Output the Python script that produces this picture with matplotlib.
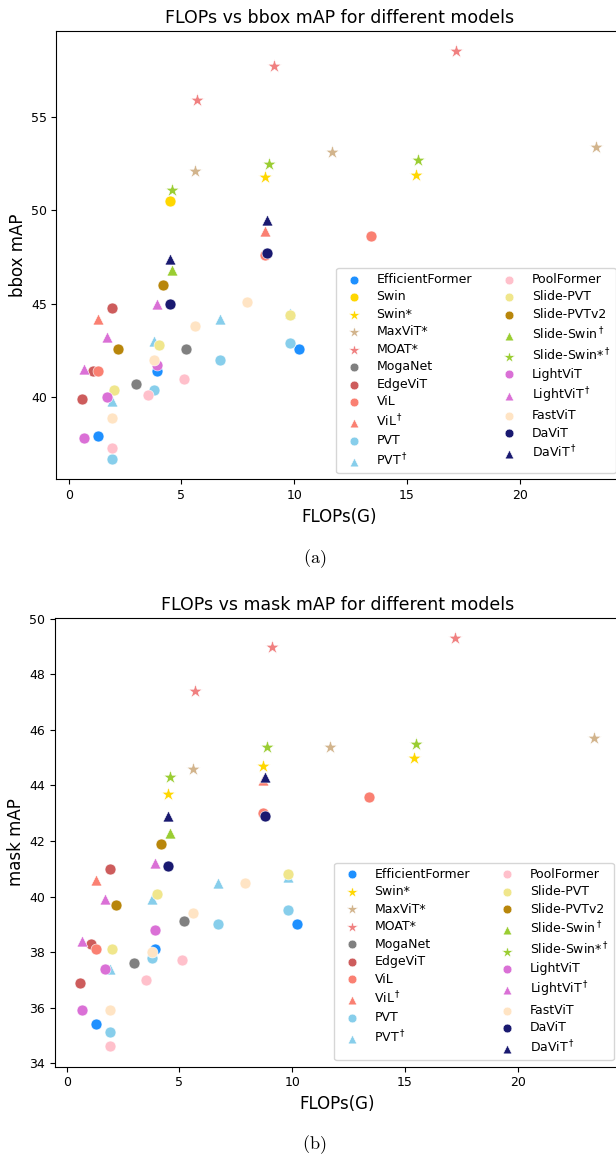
import matplotlib.pyplot as plt

# ---- FLOPs (G) per model ----
effformer_flops = [1.3, 3.9, 10.2]
swin_flops = [4.5]
swin_star_flops_bbox = [8.7, 15.4]
swin_star_flops_mask = [4.5, 8.7, 15.4]
maxvit_flops = [5.6, 11.7, 23.4]
moat_flops = [5.7, 9.1, 17.2]
moganet_flops = [3.0, 5.2]
edgevit_flops = [0.6, 1.1, 1.9]
vil_flops = [1.3, 8.7, 13.4]
vil_dag_flops = [1.3, 8.7]
pvt_flops = [1.9, 3.8, 6.7, 9.8]
poolformer_flops = [1.9, 3.5, 5.1]
slide_pvt_flops = [2.0, 4.0, 9.8]
slide_pvtv2_flops = [2.2, 4.2]
slide_swin_flops = [4.6]
slide_swin_star_flops = [4.6, 8.9, 15.5]
lightvit_flops = [0.7, 1.7, 3.9]
fastvit_flops = [1.9, 3.8, 5.6, 7.9]
davit_flops = [4.5, 8.8]

# ---- bbox mAP ----
effformer_bbox = [37.9, 41.4, 42.6]
swin_bbox = [50.5]
swin_star_bbox = [51.8, 51.9]
maxvit_bbox = [52.1, 53.1, 53.4]
moat_bbox = [55.9, 57.7, 58.5]
moganet_bbox = [40.7, 42.6]
edgevit_bbox = [39.9, 41.4, 44.8]
vil_bbox = [41.4, 47.6, 48.6]
vil_dag_bbox = [44.2, 48.9]
pvt_bbox = [36.7, 40.4, 42.0, 42.9]
pvt_dag_bbox = [39.8, 43.0, 44.2, 44.5]
poolformer_bbox = [37.3, 40.1, 41.0]
slide_pvt_bbox = [40.4, 42.8, 44.4]
slide_pvtv2_bbox = [42.6, 46.0]
slide_swin_bbox = [46.8]
slide_swin_star_bbox = [51.1, 52.5, 52.7]
lightvit_bbox = [37.8, 40.0, 41.7]
lightvit_dag_bbox = [41.5, 43.2, 45.0]
fastvit_bbox = [38.9, 42.0, 43.8, 45.1]
davit_bbox = [45.0, 47.7]
davit_dag_bbox = [47.4, 49.5]

# ---- mask mAP ----
effformer_mask = [35.4, 38.1, 39.0]
swin_star_mask = [43.7, 44.7, 45.0]
maxvit_mask = [44.6, 45.4, 45.7]
moat_mask = [47.4, 49.0, 49.3]
moganet_mask = [37.6, 39.1]
edgevit_mask = [36.9, 38.3, 41.0]
vil_mask = [38.1, 43.0, 43.6]
vil_dag_mask = [40.6, 44.2]
pvt_mask = [35.1, 37.8, 39.0, 39.5]
pvt_dag_mask = [37.4, 39.9, 40.5, 40.7]
poolformer_mask = [34.6, 37.0, 37.7]
slide_pvt_mask = [38.1, 40.1, 40.8]
slide_pvtv2_mask = [39.7, 41.9]
slide_swin_mask = [42.3]
slide_swin_star_mask = [44.3, 45.4, 45.5]
lightvit_mask = [35.9, 37.4, 38.8]
lightvit_dag_mask = [38.4, 39.9, 41.2]
fastvit_mask = [35.9, 38.0, 39.4, 40.5]
davit_mask = [41.1, 42.9]
davit_dag_mask = [42.9, 44.3]

D = r'$^\dagger$'

# (label, flops, values, color, marker)
bbox_series = [
    ('EfficientFormer', effformer_flops, effformer_bbox, 'dodgerblue', 'o'),
    ('Swin', swin_flops, swin_bbox, 'gold', 'o'),
    ('Swin*', swin_star_flops_bbox, swin_star_bbox, 'gold', '*'),
    ('MaxViT*', maxvit_flops, maxvit_bbox, 'tan', '*'),
    ('MOAT*', moat_flops, moat_bbox, 'lightcoral', '*'),
    ('MogaNet', moganet_flops, moganet_bbox, 'gray', 'o'),
    ('EdgeViT', edgevit_flops, edgevit_bbox, 'indianred', 'o'),
    ('ViL', vil_flops, vil_bbox, 'salmon', 'o'),
    ('ViL' + D, vil_dag_flops, vil_dag_bbox, 'salmon', '^'),
    ('PVT', pvt_flops, pvt_bbox, 'skyblue', 'o'),
    ('PVT' + D, pvt_flops, pvt_dag_bbox, 'skyblue', '^'),
    ('PoolFormer', poolformer_flops, poolformer_bbox, 'pink', 'o'),
    ('Slide-PVT', slide_pvt_flops, slide_pvt_bbox, 'khaki', 'o'),
    ('Slide-PVTv2', slide_pvtv2_flops, slide_pvtv2_bbox, 'darkgoldenrod', 'o'),
    ('Slide-Swin' + D, slide_swin_flops, slide_swin_bbox, 'yellowgreen', '^'),
    ('Slide-Swin*' + D, slide_swin_star_flops, slide_swin_star_bbox, 'yellowgreen', '*'),
    ('LightViT', lightvit_flops, lightvit_bbox, 'orchid', 'o'),
    ('LightViT' + D, lightvit_flops, lightvit_dag_bbox, 'orchid', '^'),
    ('FastViT', fastvit_flops, fastvit_bbox, 'bisque', 'o'),
    ('DaViT', davit_flops, davit_bbox, 'midnightblue', 'o'),
    ('DaViT' + D, davit_flops, davit_dag_bbox, 'midnightblue', '^'),
]

mask_series = [
    ('EfficientFormer', effformer_flops, effformer_mask, 'dodgerblue', 'o'),
    ('Swin*', swin_star_flops_mask, swin_star_mask, 'gold', '*'),
    ('MaxViT*', maxvit_flops, maxvit_mask, 'tan', '*'),
    ('MOAT*', moat_flops, moat_mask, 'lightcoral', '*'),
    ('MogaNet', moganet_flops, moganet_mask, 'gray', 'o'),
    ('EdgeViT', edgevit_flops, edgevit_mask, 'indianred', 'o'),
    ('ViL', vil_flops, vil_mask, 'salmon', 'o'),
    ('ViL' + D, vil_dag_flops, vil_dag_mask, 'salmon', '^'),
    ('PVT', pvt_flops, pvt_mask, 'skyblue', 'o'),
    ('PVT' + D, pvt_flops, pvt_dag_mask, 'skyblue', '^'),
    ('PoolFormer', poolformer_flops, poolformer_mask, 'pink', 'o'),
    ('Slide-PVT', slide_pvt_flops, slide_pvt_mask, 'khaki', 'o'),
    ('Slide-PVTv2', slide_pvtv2_flops, slide_pvtv2_mask, 'darkgoldenrod', 'o'),
    ('Slide-Swin' + D, slide_swin_flops, slide_swin_mask, 'yellowgreen', '^'),
    ('Slide-Swin*' + D, slide_swin_star_flops, slide_swin_star_mask, 'yellowgreen', '*'),
    ('LightViT', lightvit_flops, lightvit_mask, 'orchid', 'o'),
    ('LightViT' + D, lightvit_flops, lightvit_dag_mask, 'orchid', '^'),
    ('FastViT', fastvit_flops, fastvit_mask, 'bisque', 'o'),
    ('DaViT', davit_flops, davit_mask, 'midnightblue', 'o'),
    ('DaViT' + D, davit_flops, davit_dag_mask, 'midnightblue', '^'),
]

fig = plt.figure(figsize=(6.16, 11.58), dpi=100)
# axes run a bit past the right edge, like the cropped original
ax1 = fig.add_axes([0.0917, 0.5861, 0.918, 0.3871])
ax2 = fig.add_axes([0.0885, 0.0788, 0.918, 0.3875])


def draw(ax, series, ylabel, title):
    for label, x, y, c, m in series:
        size = 110 if m == '*' else 62
        ax.scatter(x, y, s=size, c=c, marker=m, label=label,
                   edgecolors='white', linewidths=0.4)
    ax.set_xlabel('FLOPs(G)', fontsize=12)
    ax.set_ylabel(ylabel, fontsize=12, labelpad=3)
    ax.set_title(title, fontsize=12.5)
    ax.tick_params(labelsize=9)
    ax.legend(loc='lower right', ncol=2, fontsize=9, markerscale=0.8,
              labelspacing=0.36, handletextpad=0.8, columnspacing=2.0)


draw(ax1, bbox_series, 'bbox mAP', 'FLOPs vs bbox mAP for different models')
draw(ax2, mask_series, 'mask mAP', 'FLOPs vs mask mAP for different models')
ax1.set_yticks([40, 45, 50, 55])

fig.text(0.51, 0.518, r'$\mathrm{(a)}$', ha='center', va='center',
         fontsize=13, math_fontfamily='cm')
fig.text(0.51, 0.0112, r'$\mathrm{(b)}$', ha='center', va='center',
         fontsize=13, math_fontfamily='cm')

plt.savefig('out.png', dpi=100)
